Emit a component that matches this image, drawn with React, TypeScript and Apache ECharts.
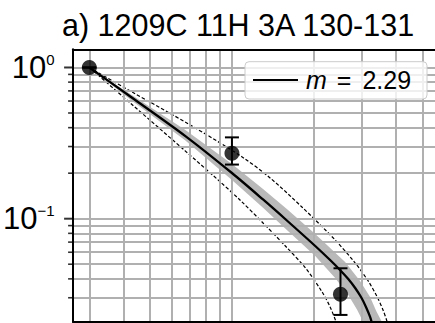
import { useEffect, useRef } from 'react';
import * as echarts from 'echarts';

// ---- texts ----
const TITLE = 'a) 1209C 11H 3A 130-131';
const LEGEND_VAR = 'm';
const LEGEND_VALUE = '2.29';

// ---- axis ranges (log axes) ----
const X_MIN = 2.616;
const X_MAX = 74.6;
const Y_MIN = 0.02074;
const Y_MAX = 1.319;

// ---- grid / tick values ----
const GRID_X = [3, 4, 5, 6, 7, 8, 9, 10, 20, 30, 40, 50, 60, 70];
const GRID_Y = [1, 0.9, 0.8, 0.7, 0.6, 0.5, 0.4, 0.3, 0.2, 0.1, 0.09, 0.08, 0.07, 0.06, 0.05, 0.04, 0.03];
const MAJOR_Y_TICKS = [1, 0.1];
const MINOR_Y_TICKS = [0.9, 0.8, 0.7, 0.6, 0.5, 0.4, 0.3, 0.2, 0.09, 0.08, 0.07, 0.06, 0.05, 0.04, 0.03];

// ---- measured points with error bars ----
const POINT_X = [3, 10, 25];
const POINT_Y = [1.0, 0.271, 0.0316];
const ERR_LOW = [1.0, 0.228, 0.0231];
const ERR_HIGH = [1.0, 0.345, 0.047];

// ---- fitted curve (solid) ----
const FIT_X = [3, 4.24, 6.75, 10, 13.0, 15.9, 20.2, 22.9, 24.9, 26.7, 28.3, 29.8, 31.0, 32.1, 32.9];
const FIT_Y = [1, 0.643, 0.352, 0.2005, 0.134, 0.0973, 0.066, 0.0533, 0.0458, 0.0399, 0.0348, 0.0301, 0.0261, 0.0224, 0.0192];

// ---- upper dashed bound ----
const UPPER_X = [3, 4.24, 7.03, 10.9, 13.8, 18.05, 23.9, 28.3, 31.6, 34.1, 35.8, 37.1, 37.7];
const UPPER_Y = [1, 0.699, 0.417, 0.256, 0.186, 0.1195, 0.0723, 0.0509, 0.0387, 0.0303, 0.0249, 0.0207, 0.0184];

// ---- lower dashed bound ----
const LOWER_X = [3, 4.24, 6.75, 8.91, 10.7, 13.0, 15.7, 18.6, 21.4, 22.9, 24.1, 24.5];
const LOWER_Y = [1, 0.582, 0.280, 0.180, 0.133, 0.0937, 0.066, 0.0472, 0.0328, 0.0261, 0.0207, 0.0184];

// ---- grey band (upper and lower edges) ----
const BAND_HI_X = [3, 4.24, 6.75, 10, 13.0, 15.9, 20.2, 26.0, 29.5, 32.1, 33.8, 35.5, 36.4];
const BAND_HI_Y = [1, 0.668, 0.386, 0.230, 0.157, 0.116, 0.0792, 0.0517, 0.0387, 0.0303, 0.0245, 0.0207, 0.0184];
const BAND_LO_X = [3, 4.24, 6.75, 10, 13.0, 15.9, 20.2, 23.9, 26.7, 28.8, 30.3, 30.8];
const BAND_LO_Y = [1, 0.614, 0.329, 0.180, 0.118, 0.0842, 0.0567, 0.0405, 0.0313, 0.0249, 0.0207, 0.0184];

const FONT = "'Liberation Sans', Arial, Helvetica, sans-serif";
const GRID_COLOR = '#b0b0b0';
const BAND_COLOR = '#b9b9b9';

function zip(xs: number[], ys: number[]) {
  return xs.map((x, i) => [x, ys[i]]);
}

function expLabel(v: number): string {
  const e = Math.log10(v);
  const r = Math.round(e);
  if (Math.abs(e - r) > 1e-6) return '';
  const s = r < 0 ? '\u2212' + String(-r) : String(r);
  return '{b|10}{s|' + s + '}';
}

export default function App() {
  const ref = useRef<HTMLDivElement>(null);

  useEffect(() => {
    if (!ref.current) return;
    const chart = echarts.init(ref.current, null, { renderer: 'svg' });

    const logX = { type: 'log', logBase: 10, min: X_MIN, max: X_MAX };

    const option: any = {
      animation: false,
      backgroundColor: '#ffffff',
      title: {
        text: TITLE,
        left: 62,
        top: 9.6,
        padding: 0,
        textStyle: { fontFamily: FONT, fontSize: 30.5, fontWeight: 'normal', color: '#000', lineHeight: 30 },
      },
      graphic: [
        {
          type: 'group',
          z: 100,
          children: [
            {
              type: 'rect',
              shape: { x: 245, y: 61.7, width: 182, height: 37.3, r: 4 },
              style: { fill: 'rgba(255,255,255,0.8)', stroke: '#cccccc', lineWidth: 1 },
              z: 100,
            },
            {
              type: 'line',
              shape: { x1: 253, y1: 80, x2: 298, y2: 80 },
              style: { stroke: '#000', lineWidth: 2.2 },
              z: 101,
            },
            {
              type: 'text',
              x: 303,
              y: 80,
              z: 101,
              style: {
                text: `{i|${LEGEND_VAR}}{e|=}{t|${LEGEND_VALUE}}`,
                verticalAlign: 'middle',
                align: 'left',
                fill: '#000',
                font: `25px ${FONT}`,
                rich: {
                  i: { fontFamily: FONT, fontSize: 25, fontStyle: 'italic', fill: '#000', padding: [0, 0, 0, 3] },
                  e: { fontFamily: FONT, fontSize: 25, fill: '#000', padding: [0, 11, 0, 10] },
                  t: { fontFamily: FONT, fontSize: 25, fill: '#000' },
                },
              },
            },
          ],
        },
      ],
      grid: { left: 72.7, top: 49.3, width: 397.3, height: 272.7, containLabel: false },
      xAxis: [
        {
          ...logX,
          position: 'bottom',
          z: 10,
          axisLine: { show: true, lineStyle: { color: '#000', width: 2 } },
          axisTick: { show: false },
          axisLabel: { show: false },
          splitLine: { show: false },
        },
        {
          ...logX,
          position: 'top',
          z: 10,
          axisLine: { show: true, lineStyle: { color: '#000', width: 2 } },
          axisTick: { show: false },
          axisLabel: { show: false },
          splitLine: { show: false },
        },
      ],
      yAxis: {
        type: 'log',
        logBase: 10,
        min: Y_MIN,
        max: Y_MAX,
        z: 10,
        axisLine: { show: true, lineStyle: { color: '#000', width: 2 } },
        axisTick: { show: false },
        splitLine: { show: false },
        axisLabel: {
          margin: 18.5,
          formatter: (v: number) => expLabel(v),
          rich: {
            b: { fontFamily: FONT, fontSize: 31, color: '#000', lineHeight: 31 },
            s: { fontFamily: FONT, fontSize: 15, color: '#000', lineHeight: 19, verticalAlign: 'top' },
          },
        },
      },
      series: [
        {
          name: 'grid',
          type: 'line',
          data: [],
          z: 1,
          silent: true,
          markLine: {
            silent: true,
            symbol: ['none', 'none'],
            label: { show: false },
            lineStyle: { color: GRID_COLOR, width: 2, type: 'solid' },
            emphasis: { disabled: true },
            data: [
              ...GRID_X.map((v) => ({ xAxis: v })),
              ...GRID_Y.map((v) => ({ yAxis: v })),
            ],
          },
        },
        {
          name: 'band',
          type: 'custom',
          z: 2,
          clip: true,
          silent: true,
          data: [[BAND_HI_X[0], BAND_HI_Y[0]]],
          renderItem: (_p: any, api: any) => {
            const top = BAND_HI_X.map((x, i) => api.coord([x, BAND_HI_Y[i]]));
            const bot = BAND_LO_X.map((x, i) => api.coord([x, BAND_LO_Y[i]])).reverse();
            return { type: 'polygon', shape: { points: top.concat(bot) }, style: { fill: BAND_COLOR } };
          },
        },
        {
          name: 'upper',
          type: 'line',
          z: 3,
          data: zip(UPPER_X, UPPER_Y),
          smooth: 0.3,
          symbol: 'none',
          silent: true,
          lineStyle: { color: '#000', width: 1.2, type: [3.5, 2] },
        },
        {
          name: 'lower',
          type: 'line',
          z: 3,
          data: zip(LOWER_X, LOWER_Y),
          smooth: 0.3,
          symbol: 'none',
          silent: true,
          lineStyle: { color: '#000', width: 1.2, type: [3.5, 2] },
        },
        {
          name: 'fit',
          type: 'line',
          z: 5,
          data: zip(FIT_X, FIT_Y),
          smooth: 0.3,
          symbol: 'none',
          silent: true,
          lineStyle: { color: '#000', width: 2.3, type: 'solid' },
        },
        {
          name: 'errors',
          type: 'custom',
          z: 6,
          silent: true,
          dimensions: ['x', 'lo', 'hi'],
          encode: { x: 0, y: [1, 2] },
          data: POINT_X.map((x, i) => [x, ERR_LOW[i], ERR_HIGH[i]]),
          renderItem: (_p: any, api: any) => {
            const x = api.value(0);
            const a = api.coord([x, api.value(1)]);
            const b = api.coord([x, api.value(2)]);
            const w = 7;
            const style = { stroke: '#000', lineWidth: 2 };
            return {
              type: 'group',
              children: [
                { type: 'line', shape: { x1: a[0], y1: a[1], x2: b[0], y2: b[1] }, style },
                { type: 'line', shape: { x1: a[0] - w, y1: a[1], x2: a[0] + w, y2: a[1] }, style },
                { type: 'line', shape: { x1: b[0] - w, y1: b[1], x2: b[0] + w, y2: b[1] }, style },
              ],
            };
          },
        },
        {
          name: 'points',
          type: 'scatter',
          z: 7,
          silent: true,
          symbol: 'circle',
          symbolSize: 15,
          itemStyle: { color: '#000' },
          data: zip(POINT_X, POINT_Y),
        },
        {
          name: 'majorTicks',
          type: 'scatter',
          z: 11,
          silent: true,
          clip: false,
          symbol: 'rect',
          symbolSize: [9, 2],
          symbolOffset: [-4.5, 0],
          itemStyle: { color: '#000' },
          data: MAJOR_Y_TICKS.map((v) => [X_MIN, v]),
        },
        {
          name: 'minorTicks',
          type: 'scatter',
          z: 11,
          silent: true,
          clip: false,
          symbol: 'rect',
          symbolSize: [5, 1.6],
          symbolOffset: [-2.5, 0],
          itemStyle: { color: '#000' },
          data: MINOR_Y_TICKS.map((v) => [X_MIN, v]),
        },
      ],
    };

    chart.setOption(option);
    return () => chart.dispose();
  }, []);

  return (
    <div style={{ position: 'fixed', left: 0, top: 0, width: 435, height: 323, overflow: 'hidden', background: '#fff' }}>
      <div ref={ref} style={{ width: 500, height: 323 }} />
    </div>
  );
}
